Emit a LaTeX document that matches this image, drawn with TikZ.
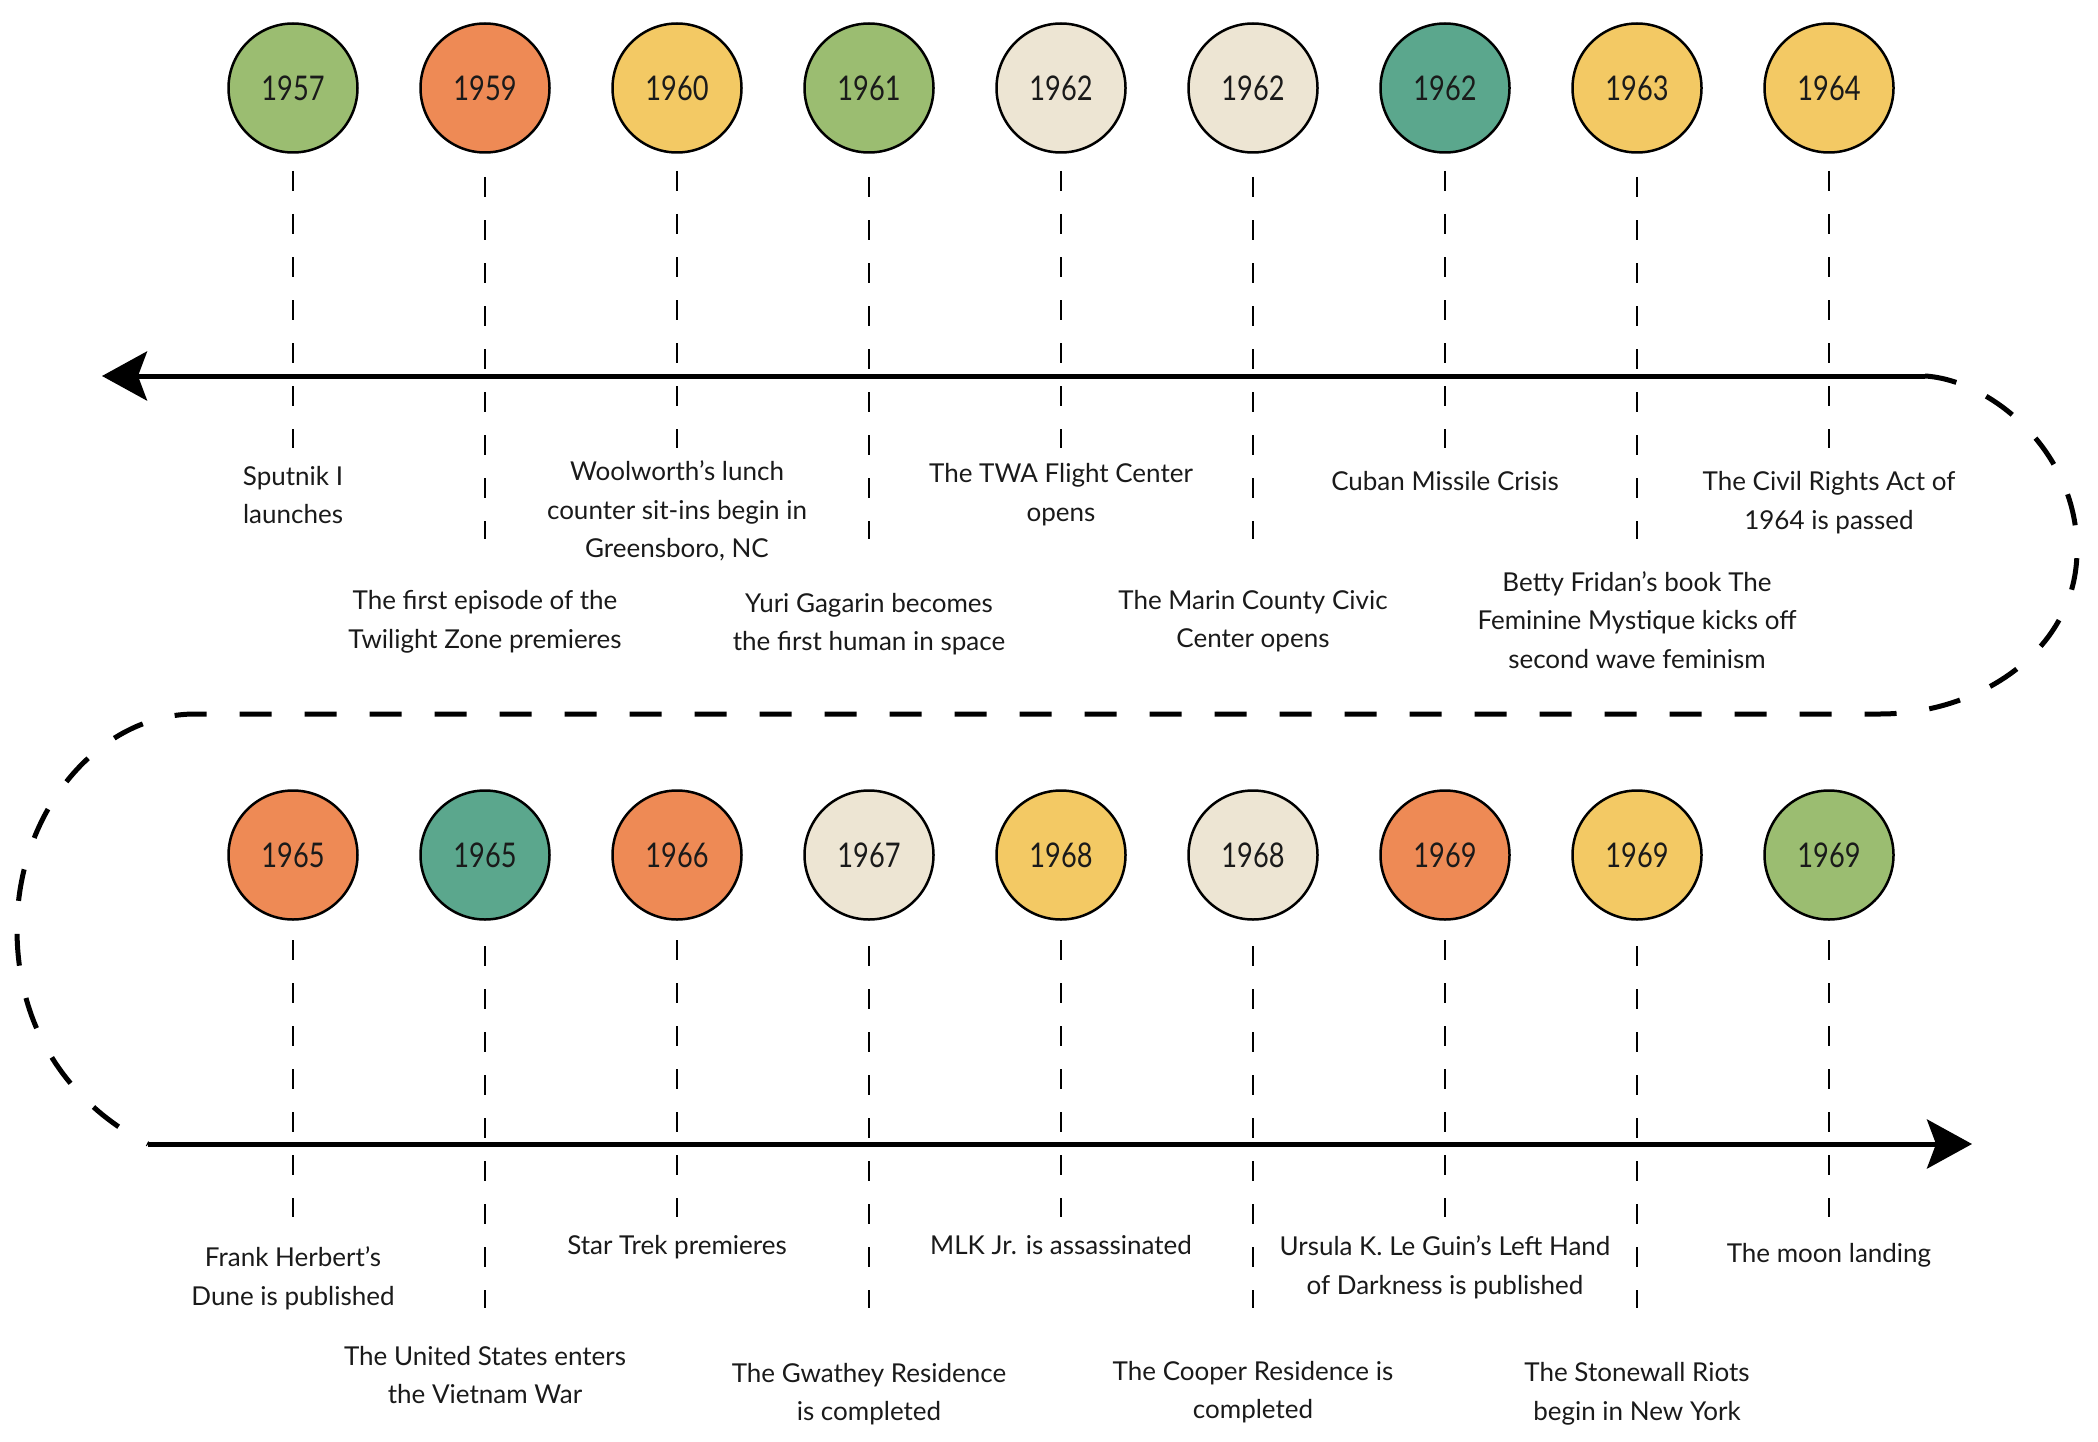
\documentclass[tikz,border=0pt]{standalone}
\usepackage{fontspec}
\setmainfont{Lato}
\newfontfamily\yearfont[FakeStretch=0.8]{Lato}
\usetikzlibrary{arrows.meta}
\definecolor{cgreen}{HTML}{9BBD71}
\definecolor{corange}{HTML}{EE8A55}
\definecolor{cyellow}{HTML}{F3C964}
\definecolor{ccream}{HTML}{EDE5D3}
\definecolor{cteal}{HTML}{5BA78D}
\definecolor{ctext}{HTML}{1A1A1A}
\begin{document}
\begin{tikzpicture}[x=1pt,y=-1pt,
  yearnode/.style={circle, draw=black, line width=2.5pt, minimum size=129pt, inner sep=0pt,
    text=ctext, font=\yearfont\fontsize{34}{38}\selectfont},
  tickline/.style={draw=black, line width=2.5pt, dash pattern=on 20pt off 23pt},
  lbl/.style={align=center, inner sep=0pt, text=ctext, font=\fontsize{26}{38.7}\selectfont},
  axisline/.style={line width=5pt},
  loopline/.style={line width=5pt, dash pattern=on 32pt off 33pt},
  tipstyle/.style={-{Stealth[length=45pt,width=49pt,inset=9pt]}}]
\useasboundingbox (0,0) rectangle (2098,1442);

% top row circles
\foreach \i/\yr/\col in {1/1957/cgreen,2/1959/corange,3/1960/cyellow,4/1961/cgreen,5/1962/ccream,6/1962/ccream,7/1962/cteal,8/1963/cyellow,9/1964/cyellow}{
  \node[yearnode, fill=\col] (t\i) at ({293+192*(\i-1)}, 88) {\yr};
}
% bottom row circles
\foreach \i/\yr/\col in {1/1965/corange,2/1965/cteal,3/1966/corange,4/1967/ccream,5/1968/cyellow,6/1968/ccream,7/1969/corange,8/1969/cyellow,9/1969/cgreen}{
  \node[yearnode, fill=\col] (b\i) at ({293+192*(\i-1)}, 855) {\yr};
}

% dashed ticks
\foreach \i in {1,3,5,7,9}{
  \draw[tickline] ([yshift=-83pt]t\i.center) -- ([yshift=-360pt]t\i.center);
  \draw[tickline] ([yshift=-85pt]b\i.center) -- ([yshift=-362pt]b\i.center);
}
\foreach \i in {2,4,6,8}{
  \draw[tickline] ([yshift=-89pt]t\i.center) -- ([yshift=-451pt]t\i.center);
  \draw[tickline] ([yshift=-91pt]b\i.center) -- ([yshift=-453pt]b\i.center);
}

% axes
\coordinate (a1s) at (1925,376);
\coordinate (a1e) at (102,376);
\coordinate (a2s) at (148,1144);
\coordinate (a2e) at (1972,1144);
\draw[axisline, tipstyle] (a1s) -- (a1e);
\draw[axisline, tipstyle] (a2s) -- (a2e);
\draw[loopline] (a1s) .. controls (1990,380) and (2077,450) .. (2077,550)
  .. controls (2077,650) and (1980,714) .. (1880,714) -- (195,714)
  .. controls (100,714) and (17,810) .. (17,929)
  .. controls (17,1040) and (80,1110) .. (a2s);

% top labels
\node[lbl] (lt1) at (293,495) {Sputnik I\\launches};
\node[lbl] (lt2) at (485,622) {The first episode of the\\Twilight Zone premieres};
\node[lbl] (lt3) at (677,511) {Woolworth’s lunch\\counter sit-ins begin in\\Greensboro, NC};
\node[lbl] (lt4) at (869,624) {Yuri Gagarin becomes\\the first human in space};
\node[lbl] (lt5) at (1061,495) {The TWA Flight Center\\opens};
\node[lbl] (lt6) at (1253,621) {The Marin County Civic\\Center opens};
\node[lbl] (lt7) at (1445,481) {Cuban Missile Crisis};
\node[lbl] (lt8) at (1637,620) {Betty Fridan’s book The\\Feminine Mystique kicks off\\second wave feminism};
\node[lbl] (lt9) at (1829,503) {The Civil Rights Act of\\1964 is passed};

% bottom labels
\node[lbl] (lb1) at (293,1278) {Frank Herbert’s\\Dune is published};
\node[lbl] (lb2) at (485,1375) {The United States enters\\the Vietnam War};
\node[lbl] (lb3) at (677,1247) {Star Trek premieres};
\node[lbl] (lb4) at (869,1394) {The Gwathey Residence\\is completed};
\node[lbl] (lb5) at (1061,1245) {MLK Jr. is assassinated};
\node[lbl] (lb6) at (1253,1392) {The Cooper Residence is\\completed};
\node[lbl] (lb7) at (1445,1267) {Ursula K. Le Guin’s Left Hand\\of Darkness is published};
\node[lbl] (lb8) at (1637,1394) {The Stonewall Riots\\begin in New York};
\node[lbl] (lb9) at (1829,1255) {The moon landing};
\end{tikzpicture}
\end{document}
